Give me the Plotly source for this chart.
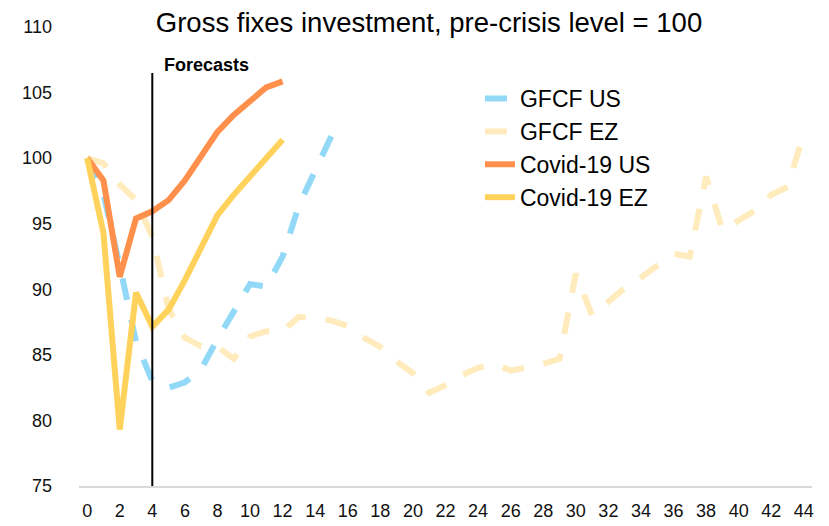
import plotly.graph_objects as go

quarters = list(range(0, 45))

gfcf_us = [100, 97.3, 91.8, 86.0, 83.0, 82.5, 82.9, 83.9, 86.2, 88.3, 90.4, 90.2,
           92.5, 96.4, 99.0, 101.7]
gfcf_ez = [100, 99.6, 98.0, 96.8, 94.0, 88.5, 86.3, 85.65, 85.6, 84.7, 86.4, 86.8,
           86.8, 87.9, 87.8, 87.6, 87.2, 86.3, 85.6, 84.5, 83.6, 82.1, 82.7, 83.45,
           84.0, 84.3, 83.8, 84.0, 84.3, 84.7, 91.2, 88.0, 89.0, 90.1, 90.9, 91.8,
           92.7, 92.5, 98.6, 94.5, 95.2, 96.0, 97.2, 97.8, 101.9]
covid_us = [100, 98.3, 90.95, 95.4, 95.95, 96.8, 98.3, 100.1, 102.0, 103.3, 104.4,
            105.4, 105.85]
covid_ez = [100, 94.3, 79.3, 89.75, 87.15, 88.45, 90.7, 93.1, 95.65, 97.2, 98.65,
            100.0, 101.4]

series_names = ["GFCF US", "GFCF EZ", "Covid-19 US", "Covid-19 EZ"]
series_values = [gfcf_us, gfcf_ez, covid_us, covid_ez]
series_colors = ["#92D8F7", "#FFEBBC", "#FF904B", "#FFD25C"]
series_dash = ["22px,20px", "22px,20px", "solid", "solid"]

x_ticks = list(range(0, 45, 2))
y_ticks = [75, 80, 85, 90, 95, 100, 105, 110]

forecast_start = 4
forecast_top = 106.5
forecast_label = "Forecasts"
title_text = "Gross fixes investment, pre-crisis level = 100"

FONT = "Liberation Sans, Arial, sans-serif"

fig = go.Figure()
for name, vals, col, dash in zip(series_names, series_values, series_colors, series_dash):
    fig.add_trace(go.Scatter(
        x=quarters[:len(vals)], y=vals, name=name, mode="lines",
        line=dict(color=col, width=6, dash=dash),
        hoverinfo="x+y+name",
    ))

fig.add_shape(type="line", xref="x", yref="y",
              x0=forecast_start, x1=forecast_start, y0=74.3, y1=forecast_top,
              line=dict(color="black", width=2), layer="above")
fig.add_annotation(x=forecast_start, y=forecast_top, xref="x", yref="y",
                   text="<b>" + forecast_label + "</b>", showarrow=False,
                   xanchor="left", yanchor="bottom", xshift=10, yshift=-4,
                   font=dict(family=FONT, size=18, color="black"))

# page body adds an 8px offset, so the figure is sized to fit the window
fig.update_layout(
    width=821, height=518,
    margin=dict(l=71, r=17, t=19, b=40, autoexpand=False),
    paper_bgcolor="white", plot_bgcolor="white",
    title=dict(text=title_text, x=0.5128, xref="container", xanchor="center",
               y=1 - 14 / 518, yref="container", yanchor="middle",
               font=dict(family=FONT, size=27.5, color="black")),
    showlegend=True,
    legend=dict(x=0.547, y=0.891, xanchor="left", yanchor="top",
                font=dict(family=FONT, size=23, color="black"),
                bgcolor="rgba(0,0,0,0)", tracegroupgap=0, itemwidth=30),
    xaxis=dict(range=[-0.5, 44.5], tickvals=x_ticks, ticktext=[str(t) for t in x_ticks],
               showgrid=False, zeroline=False, showline=True, linecolor="#D9D9D9",
               linewidth=1.5, ticks="", ticklabelstandoff=8, automargin=False,
               tickfont=dict(family=FONT, size=18, color="#111111")),
    yaxis=dict(range=[75, 110], tickvals=y_ticks, showgrid=False, zeroline=False,
               showline=False, ticks="", ticklabelstandoff=26, automargin=False,
               tickfont=dict(family=FONT, size=18, color="#111111")),
)

fig.write_html("out.html")
